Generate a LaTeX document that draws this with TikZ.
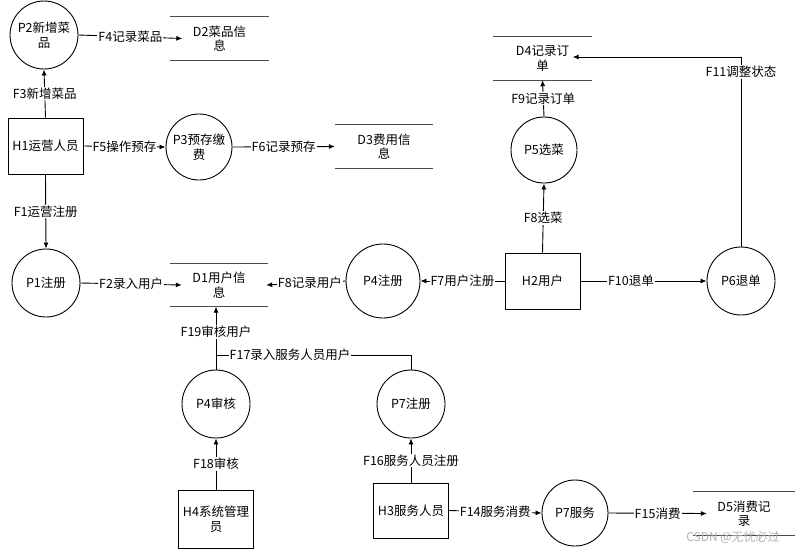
\documentclass[tikz,border=0pt]{standalone}
\usepackage{fontspec}
\setmainfont{Noto Sans CJK SC}
\usetikzlibrary{arrows.meta}
\begin{document}
\begin{tikzpicture}[x=1pt,y=-1pt,
  every node/.style={font=\fontsize{12.5}{14.5}\selectfont},
  proc/.style={draw,circle,line width=0.9pt,minimum size=68pt,inner sep=0pt,align=center},
  ext/.style={draw,rectangle,line width=0.9pt,minimum width=75pt,minimum height=56pt,inner sep=1pt,align=center},
  store/.style={minimum width=98pt,minimum height=43pt,inner sep=0pt,align=center},
  sline/.style={line width=1pt,draw=black!70},
  flow/.style={line width=0.9pt,-{Latex[length=6pt,width=5pt]}},
  lbl/.style={fill=white,inner sep=1pt}
]
\useasboundingbox (0,0) rectangle (795,550);

% processes
\node[proc] (p2) at (44,35) {P2新增菜\\品};
\node[proc,minimum size=66pt] (p3) at (199,147) {P3预存缴\\费};
\node[proc] (p1) at (46,283) {P1注册};
\node[proc,minimum size=74pt] (p4) at (383,281) {P4注册};
\node[proc,minimum size=66pt] (p5) at (544,150) {P5选菜};
\node[proc] (p6) at (741,281) {P6退单};
\node[proc] (p4a) at (216,404) {P4审核};
\node[proc] (p7r) at (411,404) {P7注册};
\node[proc,minimum size=66pt] (p7s) at (575,513) {P7服务};

% external entities
\node[ext] (h1) at (45.5,146) {H1运营人员};
\node[ext] (h2) at (542.5,281) {H2用户};
\node[ext,minimum height=58pt] (h4) at (216,519) {H4系统管理\\员};
\node[ext,minimum height=55pt] (h3) at (411,510.5) {H3服务人员};

% data stores
\node[store] (d2) at (219.5,38.5) {D2菜品信\\息};
\node[store] (d3) at (384,146.5) {D3费用信\\息};
\node[store] (d4) at (542.5,58.5) {D4记录订\\单};
\node[store] (d1) at (219,285) {D1用户信\\息};
\node[store,minimum width=102pt] (d5) at (744,513.5) {D5消费记\\录};
\foreach \d in {d1,d2,d3,d4,d5}{
  \draw[sline] (\d.north west) -- (\d.north east);
  \draw[sline] (\d.south west) -- (\d.south east);
}

% flows
\draw[flow] (p2.east) -- ([xshift=12pt]d2.west) node[lbl,midway]{F4记录菜品};
\draw[flow] (h1.north) -- (p2.south) node[lbl,midway]{F3新增菜品};
\draw[flow] (h1.east) -- (p3.west) node[lbl,midway]{F5操作预存};
\draw[flow] (p3.east) -- (d3.west) node[lbl,midway]{F6记录预存};
\draw[flow] (h1.south) -- (p1.north) node[lbl,midway]{F1运营注册};
\draw[flow] (p1.east) -- ([xshift=12pt]d1.west) node[lbl,midway]{F2录入用户};
\draw[flow] (p4.west) -- ([xshift=-2pt]d1.east) node[lbl,pos=0.45]{F8记录用户};
\draw[flow] (h2.west) -- (p4.east) node[lbl,midway]{F7用户注册};
\draw[flow] (h2.east) -- (p6.west) node[lbl,pos=0.4]{F10退单};
\coordinate (d4in) at ([xshift=-19pt,yshift=1.5pt]d4.east);
\draw[flow] (p6.north) |- (d4in) node[lbl,pos=0.46]{F11调整状态};
\draw[flow] (p5.north) -- (d4.south) node[lbl,midway]{F9记录订单};
\draw[flow] (h2.north) -- (p5.south) node[lbl,midway]{F8选菜};
\coordinate (d1in) at (p4a.north |- d1.south);
\draw[flow] (p4a.north) -- (d1in) node[lbl,pos=0.6]{F19审核用户};
\coordinate (j17) at (216,355);
\draw[line width=0.9pt] (p7r.north) |- (j17) node[lbl,pos=0.81]{F17录入服务人员用户};
\draw[flow] (h4.north) -- (p4a.south) node[lbl,midway]{F18审核};
\draw[flow] (h3.north) -- (p7r.south) node[lbl,midway]{F16服务人员注册};
\draw[flow] (h3.east) -- (p7s.west) node[lbl,midway]{F14服务消费};
\draw[flow] (p7s.east) -- ([xshift=14pt]d5.west) node[lbl,midway]{F15消费};

% watermark
\node[text=black!30,font=\fontsize{12}{14}\selectfont] (wm) at (733,537) {CSDN @无忧必过};
\end{tikzpicture}
\end{document}
